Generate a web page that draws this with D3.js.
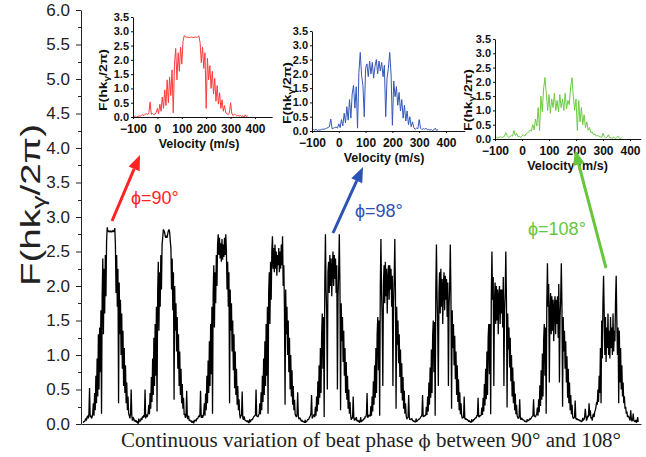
<!DOCTYPE html>
<html>
<head>
<meta charset="utf-8">
<script src="https://cdn.jsdelivr.net/npm/d3@7"></script>
<style>
  body { margin: 0; background: #fff; }
  svg { display: block; }
</style>
</head>
<body>
<svg id="chart" width="646" height="457"></svg>
<script>
// Velocity grid (m/s) shared by every momentum profile
const velocity = [
  -100,-95,-90,-85,-80,-75,-70,-65,-60,-55,-50,-45,-40,-35,-30,-25,-20,-15,-10,-5,
  0,5,10,15,20,25,30,35,40,45,50,55,60,65,70,75,80,85,90,95,100,105,110,115,120,125,130,135,140,
  145,150,155,160,165,170,175,180,185,190,195,200,205,210,215,220,225,230,235,240,245,250,255,260,265,270,275,280,
  285,290,295,300,305,310,315,320,325,330,335,340,345,350,355,360,365,370
];

// Beat phase (degrees) of each recorded profile
const phases = [90, 92, 94, 96, 98, 100, 102, 104, 106, 108];

// F(hk_gamma/2pi) for each beat phase, sampled on the velocity grid
const profile090 = [
  0.05,0.02,0.03,0.00,0.02,0.04,0.03,0.06,0.08,0.05,0.10,0.12,0.08,0.15,0.52,0.10,0.12,0.08,0.10,0.15,
  0.30,0.12,0.45,0.20,0.70,0.30,0.95,0.40,1.30,0.50,1.40,0.75,1.65,0.15,1.85,2.40,1.30,2.25,1.60,2.45,
  1.85,2.65,2.85,2.80,2.79,2.80,2.78,2.79,2.80,2.78,2.79,2.80,2.79,2.80,2.84,2.60,1.90,2.45,1.70,2.25,
  0.30,2.05,1.30,1.80,1.00,1.60,0.80,1.35,0.55,1.10,0.45,0.85,0.30,0.60,0.20,0.40,0.15,
  0.12,0.08,0.15,0.50,0.12,0.05,0.10,0.08,0.04,0.06,0.03,0.05,0.02,0.04,0.00,0.08,0.02,0.05
];
const profile092 = [
  0.03,0.05,0.01,0.04,0.02,0.06,0.04,0.05,0.09,0.06,0.11,0.09,0.13,0.10,0.50,0.08,0.14,0.10,0.12,0.17,
  0.28,0.14,0.45,0.22,0.68,0.32,0.95,0.42,1.25,0.55,1.45,0.70,1.70,0.18,1.90,2.35,1.35,2.20,1.70,2.45,
  1.95,2.60,2.70,2.82,2.80,2.78,2.72,2.70,2.73,2.70,2.76,2.80,2.82,2.78,2.65,2.55,1.95,2.40,1.65,2.20,
  0.35,2.00,1.35,1.75,1.05,1.55,0.80,1.30,0.55,1.05,0.42,0.80,0.30,0.58,0.22,0.38,0.14,
  0.14,0.09,0.12,0.48,0.10,0.07,0.12,0.05,0.06,0.04,0.05,0.02,0.04,0.03,0.01,0.06,0.03,0.04
];
const profile094 = [
  0.04,0.02,0.05,0.02,0.03,0.05,0.06,0.04,0.08,0.07,0.09,0.12,0.10,0.14,0.48,0.09,0.13,0.09,0.11,0.16,
  0.30,0.12,0.44,0.20,0.70,0.30,0.92,0.45,1.20,0.55,1.45,0.72,1.70,0.15,1.90,2.30,1.40,2.20,1.75,2.45,
  2.00,2.60,2.75,2.45,2.70,2.40,2.62,2.35,2.68,2.38,2.60,2.42,2.70,2.45,2.75,2.50,1.95,2.35,1.70,2.20,
  0.30,1.95,1.35,1.75,1.05,1.50,0.78,1.30,0.52,1.05,0.42,0.80,0.28,0.55,0.20,0.36,0.15,
  0.08,0.12,0.13,0.47,0.09,0.06,0.11,0.07,0.05,0.05,0.04,0.03,0.05,0.02,0.02,0.07,0.02,0.05
];
const profile096 = [
  0.03,0.04,0.02,0.03,0.05,0.03,0.05,0.07,0.06,0.08,0.10,0.11,0.12,0.13,0.50,0.11,0.12,0.10,0.13,0.15,
  0.30,0.14,0.46,0.20,0.70,0.32,0.95,0.42,1.20,0.55,1.45,0.70,1.70,0.15,1.90,2.20,1.45,2.35,1.80,2.50,
  2.72,2.25,2.55,2.20,2.60,2.25,2.50,2.15,2.45,2.30,2.55,2.20,2.50,2.25,2.60,2.30,2.72,2.00,2.30,1.70,
  0.28,1.95,1.30,1.70,1.00,1.50,0.75,1.25,0.50,1.00,0.40,0.78,0.28,0.55,0.20,0.35,0.14,
  0.12,0.10,0.14,0.46,0.11,0.07,0.09,0.08,0.06,0.04,0.05,0.04,0.03,0.03,0.02,0.06,0.04,0.03
];
const profile098 = [
  0.10,0.05,0.03,0.06,0.02,0.04,0.03,0.05,0.07,0.06,0.08,0.10,0.12,0.15,0.42,0.08,0.10,0.12,0.14,0.10,
  0.25,0.12,0.40,0.18,0.62,0.28,0.85,0.38,1.10,0.45,1.30,1.60,0.80,1.55,0.10,2.05,2.75,1.95,1.60,0.50,
  2.20,2.35,1.90,2.45,2.00,2.40,1.85,2.25,2.50,2.00,2.45,2.10,2.40,1.90,2.30,0.50,1.85,2.20,2.75,2.00,
  0.20,1.75,1.20,1.55,0.90,1.35,0.70,1.10,0.45,0.90,0.35,0.70,0.22,0.50,0.15,0.32,0.12,
  0.06,0.10,0.08,0.40,0.10,0.05,0.08,0.06,0.10,0.04,0.06,0.03,0.05,0.02,0.04,0.10,0.02,0.05
];
const profile100 = [
  0.04,0.03,0.05,0.02,0.04,0.03,0.06,0.05,0.06,0.08,0.07,0.11,0.10,0.14,0.45,0.09,0.11,0.13,0.12,0.11,
  0.26,0.12,0.40,0.18,0.62,0.28,0.85,0.38,1.10,0.45,1.30,1.55,0.78,1.50,0.12,2.00,2.68,1.90,1.50,0.55,
  2.05,2.30,1.75,2.35,1.85,2.25,1.60,2.10,2.30,1.80,2.30,1.95,2.25,1.70,2.15,0.55,1.75,2.10,2.68,1.90,
  0.22,1.70,1.15,1.50,0.88,1.30,0.68,1.08,0.45,0.88,0.34,0.68,0.22,0.48,0.15,0.30,0.12,
  0.07,0.09,0.10,0.42,0.09,0.06,0.07,0.07,0.08,0.05,0.05,0.04,0.04,0.03,0.03,0.08,0.03,0.04
];
const profile102 = [
  0.03,0.05,0.04,0.03,0.05,0.04,0.05,0.06,0.07,0.07,0.08,0.10,0.11,0.13,0.42,0.10,0.12,0.11,0.13,0.12,
  0.25,0.13,0.40,0.18,0.60,0.28,0.82,0.38,1.08,0.45,1.28,1.50,0.75,1.48,0.12,1.95,2.60,1.85,1.40,0.55,
  1.90,2.20,1.60,2.25,1.70,2.10,1.45,2.00,2.20,1.65,2.15,1.80,2.10,1.55,2.05,0.55,1.70,2.00,2.60,1.85,
  0.22,1.65,1.10,1.45,0.85,1.28,0.65,1.05,0.42,0.85,0.32,0.65,0.20,0.46,0.14,0.30,0.12,
  0.08,0.10,0.09,0.40,0.08,0.07,0.08,0.06,0.07,0.05,0.04,0.05,0.03,0.04,0.02,0.07,0.03,0.04
];
const profile104 = [
  0.04,0.03,0.04,0.05,0.03,0.05,0.04,0.07,0.06,0.08,0.09,0.09,0.12,0.12,0.38,0.11,0.10,0.12,0.12,0.13,
  0.24,0.13,0.38,0.18,0.58,0.27,0.80,0.36,1.05,0.42,1.25,1.45,0.72,1.45,0.14,1.85,2.50,1.80,2.13,0.55,
  1.75,2.05,1.45,2.00,1.50,1.95,1.30,1.85,2.00,1.45,1.95,1.60,1.95,1.40,2.13,0.55,1.65,1.90,2.50,1.80,
  0.24,1.60,1.08,1.40,0.82,1.25,0.62,1.00,0.40,0.82,0.30,0.62,0.20,0.44,0.14,0.28,0.12,
  0.09,0.08,0.11,0.36,0.09,0.06,0.09,0.07,0.06,0.06,0.05,0.04,0.04,0.03,0.03,0.07,0.02,0.04
];
const profile106 = [
  0.05,0.04,0.03,0.04,0.04,0.06,0.05,0.06,0.08,0.07,0.08,0.10,0.11,0.12,0.36,0.12,0.11,0.10,0.13,0.14,
  0.24,0.12,0.36,0.17,0.56,0.26,0.78,0.35,1.02,0.40,1.22,1.45,0.70,1.40,0.15,1.75,2.33,1.70,2.03,0.60,
  1.60,1.90,1.30,1.85,1.35,1.80,1.20,1.70,1.85,1.30,1.80,1.45,1.85,1.25,2.03,0.60,1.55,1.80,2.33,1.70,
  0.25,1.55,1.05,1.35,0.80,1.20,0.60,0.98,0.38,0.80,0.30,0.60,0.20,0.42,0.14,0.28,0.11,
  0.08,0.09,0.10,0.34,0.08,0.07,0.08,0.06,0.07,0.05,0.06,0.04,0.05,0.03,0.04,0.09,0.03,0.04
];
const profile108 = [
  0.10,0.06,0.04,0.05,0.08,0.05,0.07,0.10,0.22,0.12,0.05,0.08,0.12,0.10,0.30,0.12,0.20,0.08,0.10,0.05,
  0.12,0.15,0.10,0.18,0.20,0.25,0.32,0.28,0.50,0.32,0.70,0.45,1.10,0.30,1.50,0.95,1.75,2.15,1.60,1.00,
  1.55,0.90,1.40,1.10,1.60,1.00,1.35,0.95,1.55,1.10,1.40,1.00,1.60,1.05,1.35,1.20,1.80,2.15,1.50,1.00,
  1.40,0.30,1.35,0.60,1.10,0.50,0.85,0.40,0.60,0.30,0.40,0.22,0.25,0.15,0.18,0.10,0.12,
  0.10,0.08,0.05,0.20,0.08,0.04,0.06,0.15,0.05,0.04,0.03,0.06,0.02,0.04,0.10,0.03,0.02,0.05
];
const profiles = [profile090, profile092, profile094, profile096, profile098,
                  profile100, profile102, profile104, profile106, profile108];

// Velocity window (m/s) of each profile used in the continuous scan
const scanWindow = [-80, 360];

// Axis ticks
const yTicksMain = [0, 0.5, 1, 1.5, 2, 2.5, 3, 3.5, 4, 4.5, 5, 5.5, 6];
const yMinorMain = [0.25, 0.75, 1.25, 1.75, 2.25, 2.75, 3.25, 3.75, 4.25, 4.75, 5.25, 5.75];
const insetYTicks = [0, 0.5, 1, 1.5, 2, 2.5, 3, 3.5];
const insetXTicks = [-100, 0, 100, 200, 300, 400];

// Profiles shown enlarged in the insets (beat phase in degrees)
const insetPhases = [90, 98, 108];

const sans = "'Liberation Sans', Arial, sans-serif";
const serif = "'Liberation Serif', 'Times New Roman', serif";
const svg = d3.select('#chart');

// ---------- main panel: all profiles laid end to end ----------
const segment = scanWindow[1] - scanWindow[0];
const xMain = d3.scaleLinear().domain([-17.8, 4421.7]).range([81, 641]);
const yMain = d3.scaleLinear().domain([0, 6]).range([424, 10]);

const mainPoints = [];
profiles.forEach((p, k) => {
  const n = Math.min(p.length, velocity.length);
  for (let i = 0; i < n; i++) {
    const v = velocity[i];
    if (v < scanWindow[0] || v > scanWindow[1]) continue;
    mainPoints.push([k * segment + v - scanWindow[0], p[i]]);
  }
});

svg.append('path')
  .attr('d', d3.line().x(d => xMain(d[0])).y(d => yMain(d[1]))(mainPoints))
  .attr('fill', 'none')
  .attr('stroke', '#000')
  .attr('stroke-width', 1.3)
  .attr('stroke-linejoin', 'miter')
  .attr('stroke-miterlimit', 1.5);

const gy = svg.append('g').attr('transform', 'translate(81,0)')
  .call(d3.axisLeft(yMain).tickValues(yTicksMain).tickFormat(d3.format('.1f'))
    .tickSize(5).tickPadding(6).tickSizeOuter(0));
gy.selectAll('text').attr('font-size', 17).attr('font-family', sans).attr('fill', '#222');
gy.selectAll('line, path').attr('stroke', '#222');
gy.selectAll('line.minor').data(yMinorMain).join('line')
  .attr('class', 'minor')
  .attr('x1', -3).attr('x2', 0)
  .attr('y1', d => Math.round(yMain(d)) + 0.5).attr('y2', d => Math.round(yMain(d)) + 0.5)
  .attr('stroke', '#222');

const gx = svg.append('g').attr('transform', `translate(0,${yMain(0)})`)
  .call(d3.axisBottom(xMain).tickValues([]).tickSizeOuter(0));
gx.select('path').attr('stroke', '#222');

// y-axis title
const yTitle = svg.append('text')
  .attr('transform', 'translate(40,205) rotate(-90)')
  .attr('text-anchor', 'middle')
  .attr('font-family', sans)
  .attr('font-size', 27)
  .attr('fill', '#222')
  .attr('textLength', 162)
  .attr('lengthAdjust', 'spacingAndGlyphs');
yTitle.append('tspan').text('F(hk');
yTitle.append('tspan').attr('font-size', 19).attr('dy', 5).text('γ');
yTitle.append('tspan').attr('dy', -5).text('/2π)');

// x-axis caption
const caption = svg.append('text')
  .attr('x', 371).attr('y', 447)
  .attr('text-anchor', 'middle')
  .attr('font-family', serif)
  .attr('font-size', 20)
  .attr('fill', '#222')
  .attr('textLength', 500)
  .attr('lengthAdjust', 'spacingAndGlyphs');
caption.append('tspan').text('Continuous variation of beat phase ');
caption.append('tspan').attr('font-family', "'DejaVu Serif', serif").attr('font-size', 17).attr('fill', '#222').text('ϕ');
caption.append('tspan').text(' between 90° and 108°');

// ---------- insets ----------
const insetLayout = [
  { color: '#ff3a3a', left: 133, x400: 255, xEnd: 470, top: 17, bottom: 117, titleX: 107, titleY: 80 },
  { color: '#3556b8', left: 312, x400: 446, xEnd: 470, top: 31, bottom: 131, titleX: 291, titleY: 93 },
  { color: '#6ccb45', left: 495, x400: 630, xEnd: 440, top: 39, bottom: 139, titleX: 472, titleY: 100 }
];

insetPhases.forEach((phase, j) => {
  const L = insetLayout[j];
  const p = profiles[phases.indexOf(phase)];
  const pxPer = (L.x400 - L.left) / 500;
  const x = d3.scaleLinear().domain([-100, L.xEnd]).range([L.left, L.left + (L.xEnd + 100) * pxPer]);
  const y = d3.scaleLinear().domain([0, 3.5]).range([L.bottom, L.top]);
  const g = svg.append('g');

  const n = Math.min(p.length, velocity.length);
  const pts = [];
  for (let i = 0; i < n; i++) pts.push([velocity[i], p[i]]);
  g.append('path')
    .attr('d', d3.line().x(d => x(d[0])).y(d => y(d[1]))(pts))
    .attr('fill', 'none')
    .attr('stroke', L.color)
    .attr('stroke-width', 1);

  const ay = g.append('g').attr('transform', `translate(${L.left},0)`)
    .call(d3.axisLeft(y).tickValues(insetYTicks).tickFormat(d3.format('.1f'))
      .tickSize(2).tickPadding(2).tickSizeOuter(0));
  const ax = g.append('g').attr('transform', `translate(0,${L.bottom})`)
    .call(d3.axisBottom(x).tickValues(insetXTicks).tickFormat(d3.format('d'))
      .tickSize(2).tickPadding(5).tickSizeOuter(0));
  ay.selectAll('text').attr('font-size', 11);
  ax.selectAll('text').attr('font-size', 12);
  [ay, ax].forEach(a => {
    a.selectAll('text').attr('font-family', sans)
      .attr('font-weight', 'bold').attr('fill', '#111');
    a.selectAll('line, path').attr('stroke', '#111');
  });

  g.append('text')
    .attr('x', x(150) + 5).attr('y', L.bottom + 31)
    .attr('text-anchor', 'middle')
    .attr('font-family', sans).attr('font-size', 12.5).attr('font-weight', 'bold')
    .attr('fill', '#111')
    .text('Velocity (m/s)');

  const t = g.append('text')
    .attr('transform', `translate(${L.titleX},${L.titleY}) rotate(-90)`)
    .attr('text-anchor', 'middle')
    .attr('font-family', sans).attr('font-size', 11).attr('font-weight', 'bold')
    .attr('fill', '#111')
    .attr('textLength', 62).attr('lengthAdjust', 'spacingAndGlyphs');
  t.append('tspan').text('F(hk');
  t.append('tspan').attr('font-size', 8).attr('dy', 2).text('γ');
  t.append('tspan').attr('dy', -2).text('/2π)');
});

// ---------- arrows linking peaks to insets ----------
const arrows = [
  { color: '#ff2424', x1: 112, y1: 221, x2: 140, y2: 155, label: 'ϕ=90°',  lx: 131, ly: 204 },
  { color: '#2c52b3', x1: 333, y1: 233, x2: 363, y2: 167, label: 'ϕ=98°',  lx: 355, ly: 217 },
  { color: '#66c63c', x1: 606, y1: 268, x2: 575, y2: 150, label: 'ϕ=108°', lx: 528, ly: 235 }
];
arrows.forEach(a => {
  const dx = a.x2 - a.x1, dy = a.y2 - a.y1;
  const len = Math.hypot(dx, dy);
  const ux = dx / len, uy = dy / len;
  const head = 15, half = 6;
  const bx = a.x2 - ux * head, by = a.y2 - uy * head;
  svg.append('line')
    .attr('x1', a.x1).attr('y1', a.y1).attr('x2', bx).attr('y2', by)
    .attr('stroke', a.color).attr('stroke-width', 3);
  svg.append('path')
    .attr('d', `M${a.x2},${a.y2}L${bx - uy * half},${by + ux * half}L${bx + uy * half},${by - ux * half}Z`)
    .attr('fill', a.color);
  svg.append('text')
    .attr('x', a.lx).attr('y', a.ly)
    .attr('font-family', sans).attr('font-size', 18)
    .attr('fill', a.color)
    .text(a.label);
});
</script>
</body>
</html>
